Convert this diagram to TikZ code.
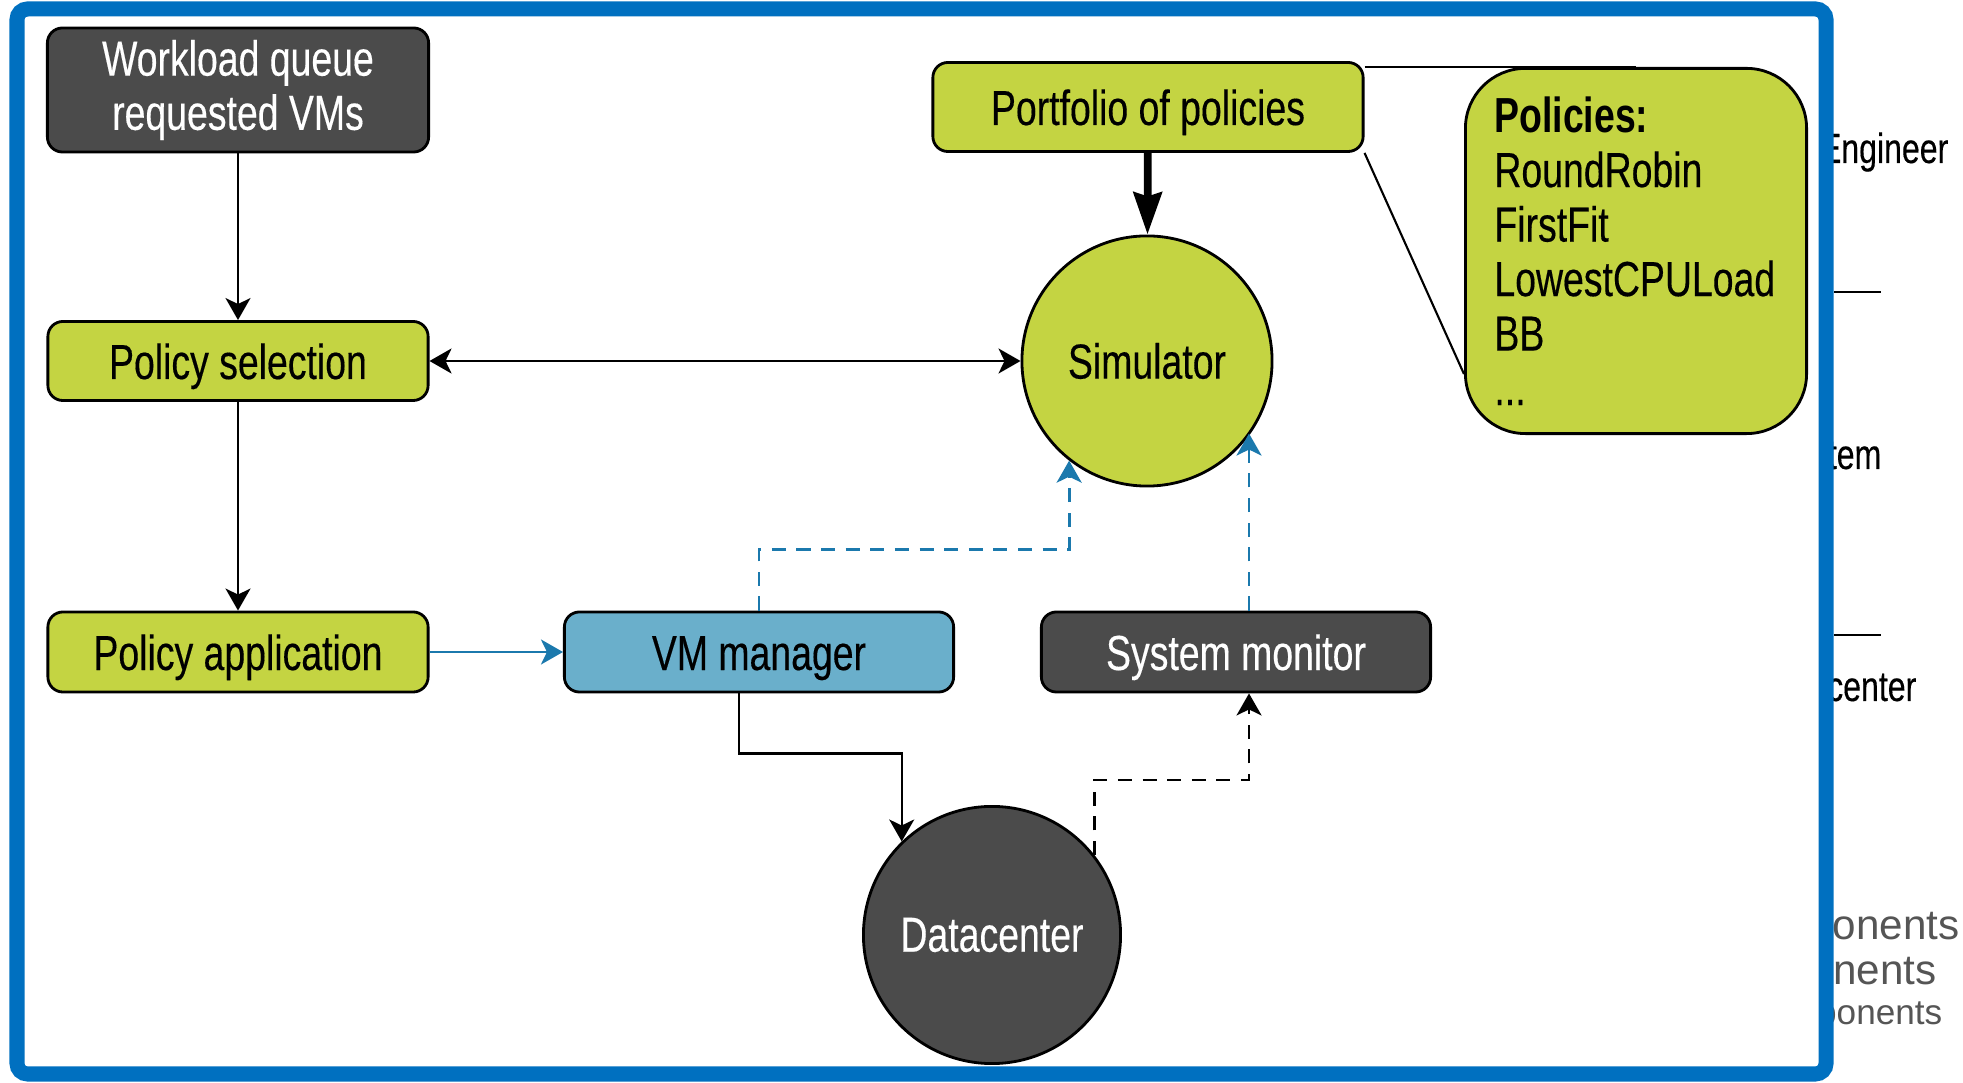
\documentclass[tikz,border=0pt]{standalone}
\usepackage{fontspec}
\setmainfont[FakeStretch=0.76, UprightFeatures={FakeBold=0.3}]{Liberation Sans}
\newfontfamily\widesans{Liberation Sans}
\usetikzlibrary{arrows.meta}

\definecolor{polgreen}{HTML}{C4D442}
\definecolor{boxdark}{HTML}{4B4B4B}
\definecolor{boxblue}{HTML}{6AAFCB}
\definecolor{linkblue}{HTML}{1B79AD}
\definecolor{framblue}{HTML}{0070C0}
\definecolor{sidegray}{HTML}{555555}

\tikzset{
	box/.style={draw=black, line width=0.8pt, rounded corners=0.15cm, inner sep=0pt,
		font=\fontsize{14}{15.4}\selectfont, align=center},
	oneline/.style={text height=0.46cm, text depth=0.1cm},
	greenbox/.style={box, fill=polgreen},
	darkbox/.style={box, fill=boxdark, text=white},
	bluebox/.style={box, fill=boxblue},
	ball/.style={circle, draw=black, line width=0.8pt, inner sep=0pt,
		font=\fontsize{14}{15.4}\selectfont},
	tip/.tip={Stealth[length=0.22cm, width=0.25cm, inset=0.06cm]},
	arr/.style={-tip, line width=0.65pt},
	barr/.style={arr, draw=linkblue},
	bdash/.style={barr, line width=0.8pt, dash pattern=on 4pt off 3pt},
	kdash/.style={arr, line width=0.75pt, dash pattern=on 4pt off 3pt},
	side/.style={font=\fontsize{12}{13}\selectfont, inner sep=0pt, anchor=base east}
}

\begin{document}
\begin{tikzpicture}[x=0.01cm, y=-0.01cm]
			\useasboundingbox (0,0) rectangle (1963,1083);

			% cut-off text next to the frame
			\node[side] (s1) at (1949,163) {Engineer};
			\node[side] (s2) at (1882,469) {tem};
			\node[side] (s3) at (1917,701) {center};
			\node[side, font=\widesans\fontsize{12}{13}\selectfont, text=sidegray] (s4) at (1960,940) {onents};
			\node[side, font=\widesans\fontsize{12}{13}\selectfont, text=sidegray] (s5) at (1937,985) {nents};
			\node[side, font=\widesans\fontsize{10}{11}\selectfont, text=sidegray] (s6) at (1943,1025) {ponents};
			\draw[line width=0.45pt] (1834,292) -- (1881,292);
			\draw[line width=0.45pt] (1834,635) -- (1881,635);

			% frame
			\draw[framblue, fill=white, line width=0.15cm, rounded corners=3pt] (17,9) rectangle (1826,1074);

			% boxes
			\node[darkbox, minimum width=3.81cm, minimum height=1.24cm] (queue) at (238,90) {Workload queue\\requested VMs};
			\node[greenbox, oneline, minimum width=3.80cm, minimum height=0.79cm] (select) at (238,361) {Policy selection};
			\node[greenbox, oneline, minimum width=3.80cm, minimum height=0.80cm] (apply) at (238,652) {Policy application};
			\node[bluebox, oneline, minimum width=3.89cm, minimum height=0.80cm] (vmm) at (759,652) {VM manager};
			\node[darkbox, oneline, minimum width=3.89cm, minimum height=0.80cm] (mon) at (1236,652) {System monitor};
			\node[greenbox, oneline, minimum width=4.30cm, minimum height=0.89cm] (port) at (1148,107) {Portfolio of policies};
			\node[greenbox, rounded corners=0.6cm, inner xsep=0.29cm, text width=2.83cm, align=left,
				minimum height=3.65cm, font=\fontsize{14}{15.5}\selectfont] (pol) at (1636,251)
				{\textbf{Policies:}\\RoundRobin\\FirstFit\\LowestCPULoad\\BB\\...};

			% circles
			\node[ball, fill=polgreen, minimum size=2.5cm] (sim) at (1147,361) {Simulator};
			\node[ball, fill=boxdark, text=white, minimum size=2.57cm] (dc) at (992,935) {Datacenter};

			\coordinate (monup) at ([xshift=0.13cm]mon.north);
			\coordinate (mondown) at ([xshift=0.13cm]mon.south);

			% links
			\draw[line width=0.6pt] (port.north east |- pol.north) -- (pol.north);
			\draw[line width=0.6pt] (port.south east) -- ([yshift=-1.23cm]pol.west);
			\draw[arr] (queue) -- (select);
			\draw[arr, tip-tip] (select) -- (sim);
			\draw[arr] (select) -- (apply);
			\draw[barr] (apply) -- (vmm);
			\draw[line width=2.2pt, -{Stealth[length=0.42cm, width=0.28cm, inset=0.04cm]}] (port) -- (sim);
			\draw[bdash] (vmm.north) -- ++(0,-61) -| (sim.232);
			\draw[bdash] (monup) -- (monup |- sim.325);
			\draw[arr] ([xshift=-0.2cm]vmm.south) -- ++(0,60) -| (dc.134);
			\draw[kdash] (dc.38) -- ++(0,-75) -| (mondown);
		\end{tikzpicture}
\end{document}
